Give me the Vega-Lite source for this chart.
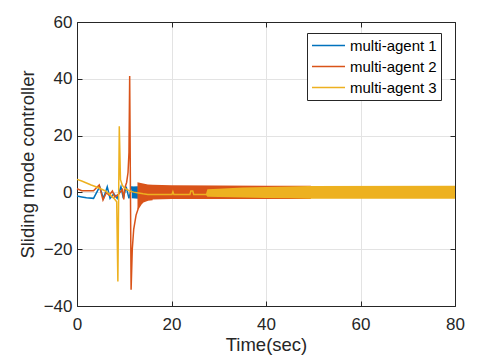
{
  "$schema": "https://vega.github.io/schema/vega-lite/v6.json",
  "width": 378,
  "height": 284,
  "autosize": {"type": "none"},
  "padding": {"left": 77, "top": 22, "right": 29, "bottom": 55},
  "background": "white",
  "config": {
    "font": "Liberation Sans",
    "view": {"stroke": null},
    "axis": {
      "labelFont": "Liberation Sans",
      "titleFont": "Liberation Sans",
      "labelColor": "#262626",
      "titleColor": "#262626",
      "domainColor": "#262626",
      "tickColor": "#262626",
      "labelFontSize": 17,
      "titleFontSize": 18.5,
      "titleFontWeight": "normal",
      "gridColor": "#e3e3e3",
      "gridWidth": 1,
      "domainWidth": 1,
      "tickWidth": 1
    },
    "legend": {
      "labelFont": "Liberation Sans",
      "labelFontSize": 15,
      "labelColor": "#000000"
    }
  },
  "datasets": {
    "bands": [
      {"s": "multi-agent 1", "t": 11.6, "lo": -2.1, "hi": 2.1},
      {"s": "multi-agent 1", "t": 12.9, "lo": -2.2, "hi": 2.2},
      {"s": "multi-agent 2", "t": 12.8, "lo": -6.0, "hi": 3.6},
      {"s": "multi-agent 2", "t": 13.5, "lo": -4.2, "hi": 3.3},
      {"s": "multi-agent 2", "t": 14.0, "lo": -3.3, "hi": 3.1},
      {"s": "multi-agent 2", "t": 15.0, "lo": -2.7, "hi": 2.8},
      {"s": "multi-agent 2", "t": 16.0, "lo": -2.5, "hi": 2.7},
      {"s": "multi-agent 2", "t": 20.0, "lo": -2.3, "hi": 2.5},
      {"s": "multi-agent 2", "t": 30.0, "lo": -2.3, "hi": 2.4},
      {"s": "multi-agent 2", "t": 40.0, "lo": -2.3, "hi": 2.3},
      {"s": "multi-agent 2", "t": 49.5, "lo": -2.3, "hi": 2.3},
      {"s": "multi-agent 3", "t": 27.3, "lo": -0.9, "hi": -0.5},
      {"s": "multi-agent 3", "t": 27.6, "lo": -1.5, "hi": 1.1},
      {"s": "multi-agent 3", "t": 30.0, "lo": -1.6, "hi": 1.3},
      {"s": "multi-agent 3", "t": 35.0, "lo": -1.8, "hi": 1.7},
      {"s": "multi-agent 3", "t": 40.0, "lo": -2.0, "hi": 1.9},
      {"s": "multi-agent 3", "t": 45.0, "lo": -2.1, "hi": 2.1},
      {"s": "multi-agent 3", "t": 49.0, "lo": -2.2, "hi": 2.25},
      {"s": "multi-agent 3", "t": 80.0, "lo": -2.2, "hi": 2.3}
    ],
    "lines": [
      {"s": "multi-agent 1", "t": 0, "v": -1.3},
      {"s": "multi-agent 1", "t": 1, "v": -1.6},
      {"s": "multi-agent 1", "t": 2, "v": -1.9},
      {"s": "multi-agent 1", "t": 3.5, "v": -2.1},
      {"s": "multi-agent 1", "t": 4.8, "v": 2.0},
      {"s": "multi-agent 1", "t": 5.6, "v": -2.1},
      {"s": "multi-agent 1", "t": 6.4, "v": 2.0},
      {"s": "multi-agent 1", "t": 7.0, "v": -2.1},
      {"s": "multi-agent 1", "t": 7.8, "v": -0.5},
      {"s": "multi-agent 1", "t": 8.5, "v": -2.1},
      {"s": "multi-agent 1", "t": 9.3, "v": 2.0},
      {"s": "multi-agent 1", "t": 9.8, "v": -2.0},
      {"s": "multi-agent 1", "t": 10.4, "v": 2.0},
      {"s": "multi-agent 1", "t": 11.0, "v": -2.1},
      {"s": "multi-agent 1", "t": 11.6, "v": 2.1},
      {"s": "multi-agent 2", "t": 0, "v": 1.3},
      {"s": "multi-agent 2", "t": 1.0, "v": 0.6},
      {"s": "multi-agent 2", "t": 3.5, "v": 0.6},
      {"s": "multi-agent 2", "t": 4.7, "v": 2.6},
      {"s": "multi-agent 2", "t": 5.5, "v": -2.7},
      {"s": "multi-agent 2", "t": 6.2, "v": -0.1},
      {"s": "multi-agent 2", "t": 6.8, "v": -1.0},
      {"s": "multi-agent 2", "t": 7.5, "v": 0.5},
      {"s": "multi-agent 2", "t": 8.0, "v": -1.6},
      {"s": "multi-agent 2", "t": 8.8, "v": -0.6},
      {"s": "multi-agent 2", "t": 9.6, "v": 1.0},
      {"s": "multi-agent 2", "t": 9.9, "v": -2.5},
      {"s": "multi-agent 2", "t": 10.1, "v": 1.5},
      {"s": "multi-agent 2", "t": 10.5, "v": 3.5},
      {"s": "multi-agent 2", "t": 10.8, "v": 7},
      {"s": "multi-agent 2", "t": 11.0, "v": 14},
      {"s": "multi-agent 2", "t": 11.15, "v": 41},
      {"s": "multi-agent 2", "t": 11.45, "v": -34.3},
      {"s": "multi-agent 2", "t": 11.7, "v": -20},
      {"s": "multi-agent 2", "t": 12.0, "v": -13},
      {"s": "multi-agent 2", "t": 12.5, "v": -8},
      {"s": "multi-agent 2", "t": 13.0, "v": -5.5},
      {"s": "multi-agent 2", "t": 13.5, "v": -4.2},
      {"s": "multi-agent 2", "t": 14.0, "v": -3.3},
      {"s": "multi-agent 2", "t": 15.0, "v": -2.7},
      {"s": "multi-agent 2", "t": 16.0, "v": -2.5},
      {"s": "multi-agent 3", "t": 0, "v": 4.6},
      {"s": "multi-agent 3", "t": 1, "v": 4.0},
      {"s": "multi-agent 3", "t": 2, "v": 3.3},
      {"s": "multi-agent 3", "t": 3, "v": 2.6},
      {"s": "multi-agent 3", "t": 4, "v": 2.0},
      {"s": "multi-agent 3", "t": 5, "v": 1.3},
      {"s": "multi-agent 3", "t": 6, "v": 0.5},
      {"s": "multi-agent 3", "t": 7, "v": -0.8},
      {"s": "multi-agent 3", "t": 7.8, "v": -2.1},
      {"s": "multi-agent 3", "t": 8.4, "v": -3.3},
      {"s": "multi-agent 3", "t": 8.65, "v": -31.4},
      {"s": "multi-agent 3", "t": 8.95, "v": 23.3},
      {"s": "multi-agent 3", "t": 9.2, "v": 4.5},
      {"s": "multi-agent 3", "t": 9.6, "v": 2.5},
      {"s": "multi-agent 3", "t": 10, "v": 1.6},
      {"s": "multi-agent 3", "t": 11, "v": 0.6},
      {"s": "multi-agent 3", "t": 12, "v": 0.1},
      {"s": "multi-agent 3", "t": 13, "v": -0.2},
      {"s": "multi-agent 3", "t": 14, "v": -0.5},
      {"s": "multi-agent 3", "t": 15, "v": -0.7},
      {"s": "multi-agent 3", "t": 20.1, "v": -0.7},
      {"s": "multi-agent 3", "t": 20.3, "v": 0.25},
      {"s": "multi-agent 3", "t": 20.5, "v": -0.7},
      {"s": "multi-agent 3", "t": 23.9, "v": -0.7},
      {"s": "multi-agent 3", "t": 24.1, "v": 0.5},
      {"s": "multi-agent 3", "t": 24.5, "v": 0.5},
      {"s": "multi-agent 3", "t": 24.7, "v": -0.7},
      {"s": "multi-agent 3", "t": 27.3, "v": -0.7}
    ]
  },
  "layer": [
    {
      "data": {"name": "bands"},
      "mark": {"type": "area", "opacity": 1, "interpolate": "linear"},
      "encoding": {
        "x": {
          "field": "t", "type": "quantitative",
          "scale": {"domain": [0, 80], "nice": false, "zero": false},
          "axis": {"orient": "bottom", "values": [0, 20, 40, 60, 80], "title": "Time(sec)", "tickSize": -5, "labelPadding": 15, "titlePadding": 3, "grid": true, "labelFlush": false}
        },
        "y": {
          "field": "lo", "type": "quantitative",
          "scale": {"domain": [-40, 60], "nice": false, "zero": false},
          "axis": {"orient": "left", "values": [-40, -20, 0, 20, 40, 60], "title": "Sliding mode controller", "tickSize": -5, "labelPadding": 10, "titlePadding": 6, "grid": true}
        },
        "y2": {"field": "hi"},
        "color": {
          "field": "s", "type": "nominal",
          "scale": {"domain": ["multi-agent 1", "multi-agent 2", "multi-agent 3"], "range": ["#0072BD", "#D95319", "#EDB120"]},
          "legend": {
            "title": null,
            "orient": "none",
            "legendX": 230,
            "legendY": 11,
            "symbolType": "M-1,0H3.4",
            "symbolSize": 225,
            "symbolStrokeWidth": 1.5,
            "symbolFillColor": "transparent",
            "labelOffset": 22,
            "rowPadding": 4,
            "padding": 4,
            "strokeColor": "#262626",
            "fillColor": "white",
            "offset": 0
          }
        }
      }
    },
    {
      "data": {"name": "lines"},
      "mark": {"type": "line", "strokeWidth": 1.5, "interpolate": "linear"},
      "encoding": {
        "x": {
          "field": "t", "type": "quantitative",
          "scale": {"domain": [0, 80], "nice": false, "zero": false},
          "axis": {"orient": "top", "values": [0, 20, 40, 60, 80], "title": null, "labels": false, "tickSize": -5, "grid": false}
        },
        "y": {
          "field": "v", "type": "quantitative",
          "scale": {"domain": [-40, 60], "nice": false, "zero": false},
          "axis": {"orient": "right", "values": [-40, -20, 0, 20, 40, 60], "title": null, "labels": false, "tickSize": -5, "grid": false}
        },
        "color": {
          "field": "s", "type": "nominal",
          "scale": {"domain": ["multi-agent 1", "multi-agent 2", "multi-agent 3"], "range": ["#0072BD", "#D95319", "#EDB120"]},
          "legend": {
            "title": null,
            "orient": "none",
            "legendX": 230,
            "legendY": 11,
            "symbolType": "M-1,0H3.4",
            "symbolSize": 225,
            "symbolStrokeWidth": 1.5,
            "symbolFillColor": "transparent",
            "labelOffset": 22,
            "rowPadding": 4,
            "padding": 4,
            "strokeColor": "#262626",
            "fillColor": "white",
            "offset": 0
          }
        }
      }
    }
  ],
  "resolve": {"axis": {"x": "independent", "y": "independent"}}
}
